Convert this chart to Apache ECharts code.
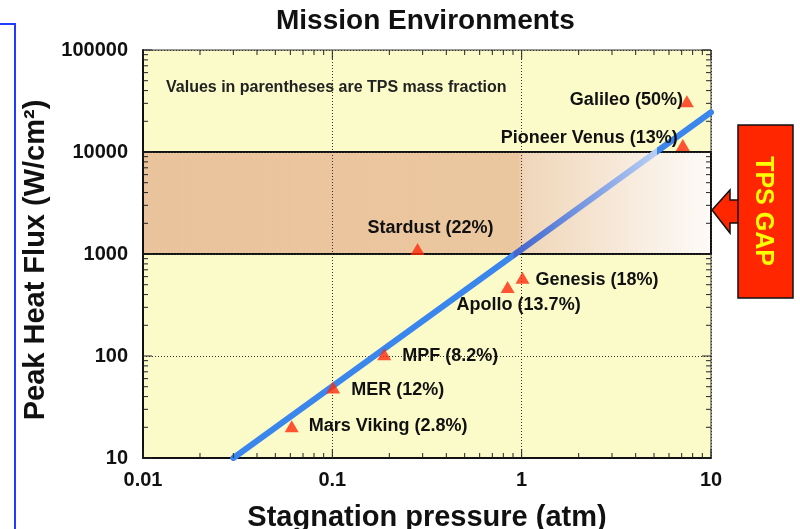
<!DOCTYPE html>
<html>
<head>
<meta charset="utf-8">
<script src="https://cdn.jsdelivr.net/npm/echarts@6/dist/echarts.min.js"></script>
<style>
  html, body { margin: 0; padding: 0; background: #fff; }
  #chart { width: 800px; height: 529px; }
</style>
</head>
<body>
<div id="chart"></div>
<script>
// mission points
const missions = ['Mars Viking (2.8%)', 'MER (12%)', 'MPF (8.2%)', 'Stardust (22%)',
  'Apollo (13.7%)', 'Genesis (18%)', 'Pioneer Venus (13%)', 'Galileo (50%)'];
const pressure = [0.061, 0.101, 0.188, 0.282, 0.843, 1.01, 7.1, 7.46];
const heatFlux = [20.5, 49, 104, 1120, 475, 585, 11700, 31500];

// blue trend line end points
const trendPressure = [0.03, 10];
const trendFlux = [10, 24500];

// TPS gap band
const gapPressure = [0.01, 10];
const gapFlux = [1000, 10000];

// axis decades
const xTicks = [0.01, 0.1, 1, 10];
const yTicks = [10, 100, 1000, 10000, 100000];

const FONT = "'Liberation Sans', Arial, sans-serif";

// label placement for each mission (same order as missions)
const labelPlace = [
  { position: 'right', distance: 10 },
  { position: 'right', distance: 11, offset: [0, 2] },
  { position: 'right', distance: 11, offset: [0, 2] },
  { position: 'top', distance: 6, offset: [13, 0] },
  { position: 'bottom', distance: 3, offset: [11, 0] },
  { position: 'right', distance: 6, offset: [0, 2] },
  { position: 'left', distance: -2, offset: [0, -7] },
  { position: 'left', distance: -3, offset: [0, -1] }
];

const minorOf = (decades) => {
  const out = [];
  for (let i = 0; i < decades.length - 1; i++) {
    for (let k = 2; k <= 9; k++) out.push(decades[i] * k);
  }
  return out;
};

const chart = echarts.init(document.getElementById('chart'));

chart.setOption({
  animation: false,
  title: {
    text: 'Mission Environments',
    left: 276,
    top: 7,
    padding: 0,
    textStyle: { fontFamily: FONT, fontWeight: 'bold', fontSize: 28, color: '#111' }
  },
  grid: {
    left: 143, right: 89, top: 50, bottom: 71,
    outerBoundsMode: 'none',
    containLabel: false,
    show: true,
    backgroundColor: '#fbfbca',
    borderColor: '#333',
    borderWidth: 1
  },
  xAxis: {
    type: 'log',
    logBase: 10,
    min: xTicks[0],
    max: xTicks[xTicks.length - 1],
    z: 2,
    name: 'Stagnation pressure (atm)',
    nameLocation: 'middle',
    nameGap: 45,
    nameTextStyle: { fontFamily: FONT, fontWeight: 'bold', fontSize: 29, color: '#111' },
    axisLine: { lineStyle: { color: '#111', width: 2 } },
    axisTick: { show: false },
    axisLabel: {
      margin: 12,
      fontFamily: FONT, fontWeight: 'bold', fontSize: 20, color: '#111',
      formatter: (v) => String(Number(v.toPrecision(3)))
    },
    splitLine: { show: true, lineStyle: { color: '#333', type: [1, 2], width: 1 } }
  },
  yAxis: {
    type: 'log',
    logBase: 10,
    min: yTicks[0],
    max: yTicks[yTicks.length - 1],
    z: 2,
    name: 'Peak Heat Flux (W/cm²)',
    nameLocation: 'middle',
    nameGap: 93,
    nameTextStyle: {
      fontFamily: FONT, fontWeight: 'bold', fontSize: 29, color: '#111',
      padding: [0, 12, 0, 0]
    },
    axisLine: { lineStyle: { color: '#111', width: 2 } },
    axisTick: { show: false },
    axisLabel: {
      margin: 15,
      fontFamily: FONT, fontWeight: 'bold', fontSize: 20, color: '#111',
      formatter: (v) => String(Math.round(v))
    },
    splitLine: { show: true, lineStyle: { color: '#333', type: [1, 2], width: 1 } }
  },
  series: [
    {
      // TPS gap band
      type: 'custom',
      z: 1,
      silent: true,
      data: [[gapPressure[0], gapFlux[0], gapPressure[1], gapFlux[1]]],
      renderItem: (params, api) => {
        const p0 = api.coord([api.value(0), api.value(3)]);
        const p1 = api.coord([api.value(2), api.value(1)]);
        return {
          type: 'rect',
          shape: { x: p0[0], y: p0[1], width: p1[0] - p0[0], height: p1[1] - p0[1] },
          style: {
            fill: new echarts.graphic.LinearGradient(0, 0, 1, 0, [
              { offset: 0, color: '#e9c39b' },
              { offset: 0.66, color: '#ebc7a0' },
              { offset: 0.67, color: '#f0d6b9' },
              { offset: 1, color: '#fdfbf8' }
            ]),
            stroke: '#111',
            lineWidth: 2
          }
        };
      }
    },
    {
      type: 'line',
      z: 3,
      silent: true,
      showSymbol: false,
      data: trendPressure.map((x, i) => [x, trendFlux[i]]),
      lineStyle: {
        width: 6,
        cap: 'round',
        color: new echarts.graphic.LinearGradient(0, 0, 1, 0, [
          { offset: 0, color: '#3b86ec' },
          { offset: 0.585, color: '#3b86ec' },
          { offset: 0.586, color: '#4463cd' },
          { offset: 0.66, color: '#5a7fd9' },
          { offset: 0.882, color: '#b8cff4' },
          { offset: 0.883, color: '#3b86ec' },
          { offset: 1, color: '#3b86ec' }
        ])
      }
    },
    {
      type: 'scatter',
      z: 4,
      symbol: 'triangle',
      symbolSize: [14, 12],
      itemStyle: { color: '#ff2a0a' },
      data: missions.map((m, i) => ({
        name: m,
        value: [pressure[i], heatFlux[i]],
        label: labelPlace[i]
      })),
      label: {
        show: true,
        formatter: '{b}',
        fontFamily: FONT, fontWeight: 'bold', fontSize: 18, color: '#111',
        textBorderWidth: 0, opacity: 1
      }
    },
    {
      // inward ticks on all four sides
      type: 'custom',
      z: 5,
      silent: true,
      clip: false,
      data: [[xTicks[0], yTicks[0]]],
      renderItem: (params, api) => {
        const x0 = xTicks[0], x1 = xTicks[xTicks.length - 1];
        const y0 = yTicks[0], y1 = yTicks[yTicks.length - 1];
        const kids = [];
        const line = (a, b) => kids.push({
          type: 'line',
          shape: { x1: a[0], y1: a[1], x2: b[0], y2: b[1] },
          style: { stroke: '#222', lineWidth: 1 }
        });
        const xt = (v, len) => {
          const b = api.coord([v, y0]), t = api.coord([v, y1]);
          line(b, [b[0], b[1] - len]);
          line(t, [t[0], t[1] + len]);
        };
        const yt = (v, len) => {
          const l = api.coord([x0, v]), r = api.coord([x1, v]);
          line(l, [l[0] + len, l[1]]);
          line(r, [r[0] - len, r[1]]);
        };
        xTicks.forEach((v) => xt(v, 9));
        minorOf(xTicks).forEach((v) => xt(v, 5));
        yTicks.forEach((v) => yt(v, 9));
        minorOf(yTicks).forEach((v) => yt(v, 5));
        return { type: 'group', children: kids };
      }
    }
  ],
  graphic: [
    {
      type: 'polyline',
      shape: { points: [[0, 24], [15, 24], [15, 529]] },
      style: { stroke: '#1f3cff', lineWidth: 2, fill: null }
    },
    {
      type: 'text',
      x: 166, y: 88,
      z: 10,
      style: {
        text: 'Values in parentheses are TPS mass fraction',
        font: 'bold 16px ' + FONT,
        fill: '#222',
        textVerticalAlign: 'middle'
      }
    },
    {
      type: 'polygon',
      z: 10,
      shape: { points: [[712, 210], [730, 190], [730, 200], [739, 200], [739, 223], [730, 223], [730, 233]] },
      style: { fill: '#ff2600', stroke: '#111', lineWidth: 1.5 }
    },
    {
      type: 'rect',
      z: 11,
      shape: { x: 738, y: 125, width: 55, height: 173 },
      style: { fill: '#ff2600', stroke: '#111', lineWidth: 1.5 }
    },
    {
      type: 'text',
      z: 12,
      x: 763, y: 211,
      rotation: -Math.PI / 2,
      style: {
        text: 'TPS GAP',
        font: 'bold 25px ' + FONT,
        fill: '#ffff00',
        textAlign: 'center',
        textVerticalAlign: 'middle'
      }
    }
  ]
});
</script>
</body>
</html>
